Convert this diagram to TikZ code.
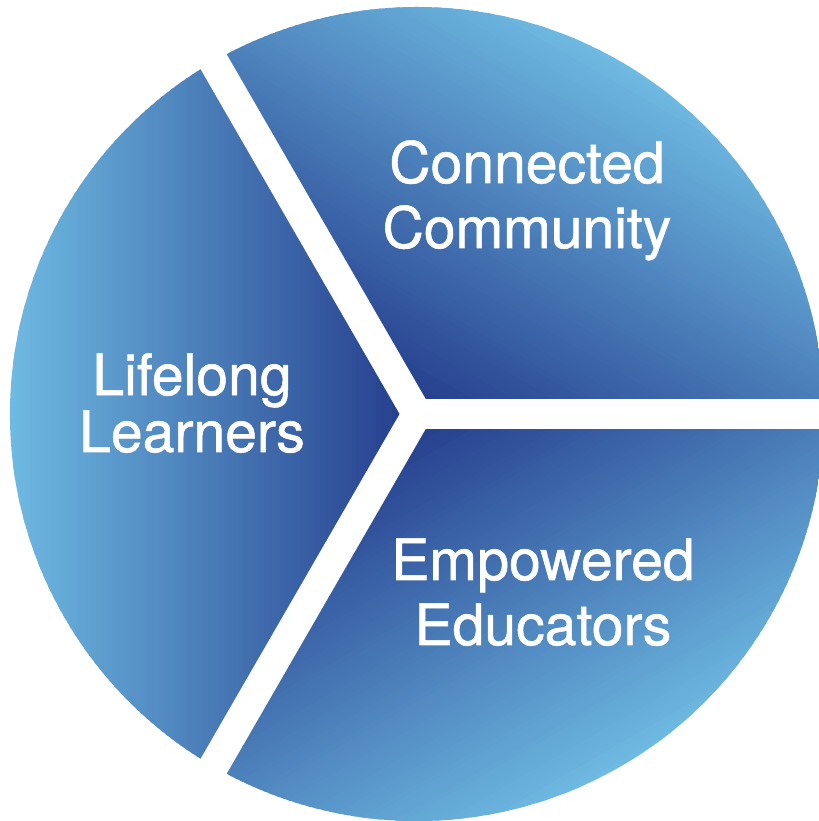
\documentclass[tikz,border=0pt]{standalone}
\usepackage{fontspec}
\setmainfont{TeX Gyre Heros}[FakeBold=1]
\definecolor{pieDark}{RGB}{36,60,140}
\definecolor{pieLight}{RGB}{110,186,226}
\tikzset{
  font={\fontsize{32.5pt}{37pt}\selectfont}}

% one slice, shaded along its middle line
\newcommand{\pieslice}[1]{%
  \begin{scope}[shift={(8.34,8.14)}, rotate=#1]
    \clip (0,0) -- (-60:8.14) arc[start angle=-60, end angle=60, radius=8.14cm] -- cycle;
    \foreach \i in {0,...,79} {
      \pgfmathtruncatemacro\p{100*\i/79}
      \fill[pieLight!\p!pieDark] ({\i*8.14/80}, -8.4) rectangle ({(\i+1.5)*8.14/80}, 8.4);
    }
  \end{scope}}

\begin{document}
\begin{tikzpicture}
\tikzstyle{every node}+=[inner sep=0pt]
\tikzstyle{slicetext}=[text=white, align=center, anchor=base]
\tikzstyle{gap}=[white, line width=0.6cm]
\useasboundingbox (0,0) rectangle (16.36,16.42);
\coordinate (c) at (8.34,8.14);
\pieslice{60}
\pieslice{180}
\pieslice{300}
\draw [gap] (c) -- ++(0:9.2);
\draw [gap] (c) -- ++(120:9.2);
\draw [gap] (c) -- ++(240:9.2);
\node [slicetext] (community) at (10.54,11.46) {Connected\\Community};
\node [slicetext, font={\fontsize{32.5pt}{32.4pt}\selectfont}] (learners) at (3.84,7.38) {Lifelong\\Learners};
\node [slicetext] (educators) at (10.86,3.52) {Empowered\\Educators};
\end{tikzpicture}
\end{document}
